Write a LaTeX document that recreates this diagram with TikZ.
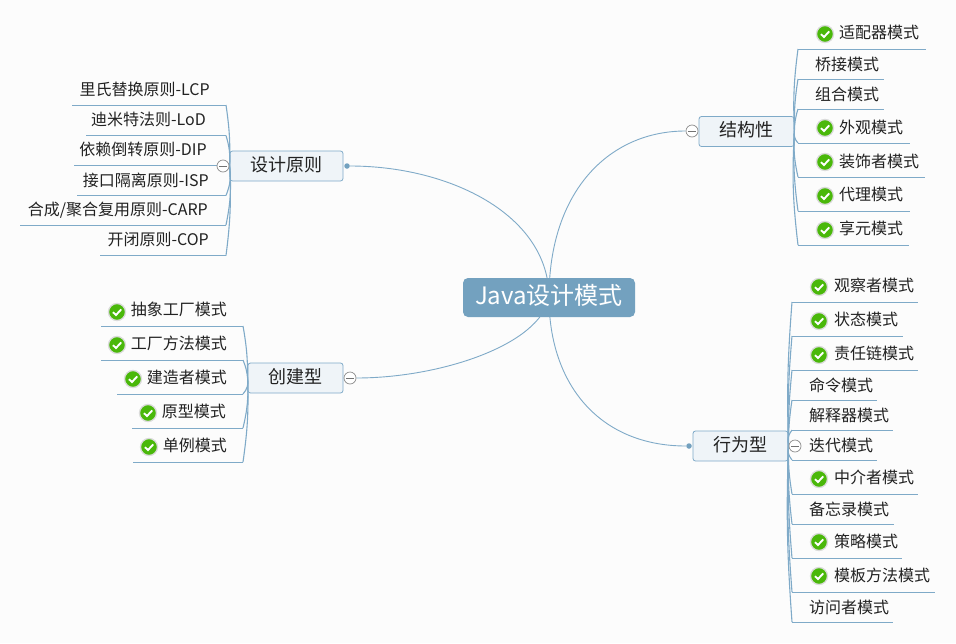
\documentclass[tikz,border=0pt]{standalone}
\usepackage{fontspec}
\setmainfont{Noto Sans CJK SC}
\usetikzlibrary{backgrounds}
\definecolor{rootblue}{HTML}{73A1BF}
\definecolor{linkblue}{HTML}{7FAAC8}
\definecolor{topicfill}{HTML}{EFF4F8}
\definecolor{checkgreen}{HTML}{4AB80A}
\definecolor{paper}{HTML}{FCFCFC}
\definecolor{inktext}{HTML}{222222}
\tikzset{
  rootnode/.style={rounded corners=5pt, fill=rootblue, text=white, minimum width=172pt, minimum height=39pt, inner sep=0pt, text height=18pt, text depth=4pt, font=\fontsize{24}{28}\selectfont},
  topicnode/.style={draw=linkblue, rounded corners=2.5pt, fill=topicfill, text=inktext, minimum height=30pt, inner sep=0pt, line width=0.8pt, text height=15pt, text depth=4.5pt, font=\fontsize{18}{22}\selectfont},
  leafright/.style={anchor=west, inner sep=0pt, text=inktext, text height=15pt, text depth=3pt, font=\fontsize{16}{18}\selectfont},
  leafleft/.style={leafright, anchor=east},
  mainlink/.style={draw=linkblue, line width=0.9pt},
  branchlink/.style={draw=linkblue, line width=1.1pt},
  underline/.style={draw=linkblue, line width=0.8pt},
  foldmark/.style={circle, draw=black!45, fill=white, minimum size=12pt, inner sep=0pt, line width=0.7pt,
    path picture={\draw[black!55, line width=0.7pt] ([xshift=-4pt]path picture bounding box.center) -- ([xshift=4pt]path picture bounding box.center);}},
  enddot/.style={circle, fill=rootblue, minimum size=5.5pt, inner sep=0pt},
  checkmark/.style={circle, fill=checkgreen, draw=black!14, line width=1.3pt, minimum size=17pt, inner sep=0pt,
    path picture={\draw[white, line width=1.9pt] ([shift={(-4,0.2)}]path picture bounding box.center) -- ([shift={(-1,3)}]path picture bounding box.center) -- ([shift={(4.2,-2.6)}]path picture bounding box.center);}}
}
\begin{document}
\begin{tikzpicture}[x=1pt, y=-1pt]
  \useasboundingbox (0,0) rectangle (956,643);

  % main topics
  \node[rootnode] (root) at (549,297.5) {Java设计模式};
  \node[topicnode, minimum width=95pt] (jiegou) at (746.5,131.5) {结构性};
  \node[topicnode, minimum width=113pt] (yuanze) at (286.5,166) {设计原则};
  \node[topicnode, minimum width=95pt] (chuangjian) at (295.5,378) {创建型};
  \node[topicnode, minimum width=95pt] (xingwei) at (740.5,446) {行为型};
  \node[enddot] (yuanzedot) at (347,166) {};
  \node[enddot] (xingweidot) at (689,446) {};

  % structure patterns
  \coordinate (a1s) at (798,49); \coordinate (a1e) at (926,49);
  \coordinate (a2s) at (798,79); \coordinate (a2e) at (884,79);
  \coordinate (a3s) at (798,109); \coordinate (a3e) at (884,109);
  \coordinate (a4s) at (798,143); \coordinate (a4e) at (910,143);
  \coordinate (a5s) at (798,177); \coordinate (a5e) at (925,177);
  \coordinate (a6s) at (798,211); \coordinate (a6e) at (910,211);
  \coordinate (a7s) at (798,245); \coordinate (a7e) at (909,245);
  \draw[underline] (a1s) -- (a1e);
  \draw[underline] (a2s) -- (a2e);
  \draw[underline] (a3s) -- (a3e);
  \draw[underline] (a4s) -- (a4e);
  \draw[underline] (a5s) -- (a5e);
  \draw[underline] (a6s) -- (a6e);
  \draw[underline] (a7s) -- (a7e);
  \draw[branchlink] (jiegou.east) to[bend left=5] (a1s);
  \draw[branchlink] (jiegou.east) to[bend left=5] (a2s);
  \draw[branchlink] (jiegou.east) to[bend left=8] (a3s);
  \draw[branchlink] (jiegou.east) to[bend right=25] (a4s);
  \draw[branchlink] (jiegou.east) to[bend right=8] (a5s);
  \draw[branchlink] (jiegou.east) to[bend right=5] (a6s);
  \draw[branchlink] (jiegou.east) to[bend right=5] (a7s);
  \node[leafright] (a1) at (839,32) {适配器模式};
  \node[leafright] (a2) at (815,64) {桥接模式};
  \node[leafright] (a3) at (815,94) {组合模式};
  \node[leafright] (a4) at (839,127) {外观模式};
  \node[leafright] (a5) at (839,161) {装饰者模式};
  \node[leafright] (a6) at (839,194) {代理模式};
  \node[leafright] (a7) at (839,228) {享元模式};
  \node[checkmark] (a1c) at (825,34) {};
  \node[checkmark] (a4c) at (825,128) {};
  \node[checkmark] (a5c) at (825,162) {};
  \node[checkmark] (a6c) at (825,196) {};
  \node[checkmark] (a7c) at (825,230) {};
  \node[foldmark] (jiegoufold) at (692,131) {};

  % design principles
  \coordinate (b1s) at (226,105); \coordinate (b1e) at (72,105);
  \coordinate (b2s) at (226,135.5); \coordinate (b2e) at (86,135.5);
  \coordinate (b3s) at (226,165.5); \coordinate (b3e) at (74,165.5);
  \coordinate (b4s) at (226,195.5); \coordinate (b4e) at (77,195.5);
  \coordinate (b5s) at (226,225); \coordinate (b5e) at (20,225);
  \coordinate (b6s) at (226,255.5); \coordinate (b6e) at (100,255.5);
  \draw[underline] (b1s) -- (b1e);
  \draw[underline] (b2s) -- (b2e);
  \draw[underline] (b3s) -- (b3e);
  \draw[underline] (b4s) -- (b4e);
  \draw[underline] (b5s) -- (b5e);
  \draw[underline] (b6s) -- (b6e);
  \draw[branchlink] (yuanze.west) to[bend right=5] (b1s);
  \draw[branchlink] (yuanze.west) to[bend right=10] (b2s);
  \draw[branchlink] (yuanze.west) -- (b3s);
  \draw[branchlink] (yuanze.west) to[bend left=15] (b4s);
  \draw[branchlink] (yuanze.west) to[bend left=8] (b5s);
  \draw[branchlink] (yuanze.west) to[bend left=5] (b6s);
  \node[leafleft] (b1) at (210,89) {里氏替换原则-LCP};
  \node[leafleft] (b2) at (206,119) {迪米特法则-LoD};
  \node[leafleft] (b3) at (207,149) {依赖倒转原则-DIP};
  \node[leafleft] (b4) at (209,180) {接口隔离原则-ISP};
  \node[leafleft] (b5) at (208,209) {合成/聚合复用原则-CARP};
  \node[leafleft] (b6) at (209,239) {开闭原则-COP};
  \node[foldmark] (yuanzefold) at (223,166) {};

  % creational patterns
  \coordinate (c1s) at (243,326); \coordinate (c1e) at (101,326);
  \coordinate (c2s) at (243,360); \coordinate (c2e) at (101,360);
  \coordinate (c3s) at (243,394); \coordinate (c3e) at (117,394);
  \coordinate (c4s) at (243,428); \coordinate (c4e) at (132,428);
  \coordinate (c5s) at (243,462); \coordinate (c5e) at (133,462);
  \draw[underline] (c1s) -- (c1e);
  \draw[underline] (c2s) -- (c2e);
  \draw[underline] (c3s) -- (c3e);
  \draw[underline] (c4s) -- (c4e);
  \draw[underline] (c5s) -- (c5e);
  \draw[branchlink] (chuangjian.west) to[bend right=5] (c1s);
  \draw[branchlink] (chuangjian.west) to[bend right=8] (c2s);
  \draw[branchlink] (chuangjian.west) to[bend left=25] (c3s);
  \draw[branchlink] (chuangjian.west) to[bend left=8] (c4s);
  \draw[branchlink] (chuangjian.west) to[bend left=5] (c5s);
  \node[leafleft] (c1) at (227,309) {抽象工厂模式};
  \node[leafleft] (c2) at (227,343) {工厂方法模式};
  \node[leafleft] (c3) at (227,377) {建造者模式};
  \node[leafleft] (c4) at (226,411) {原型模式};
  \node[leafleft] (c5) at (227,445) {单例模式};
  \node[checkmark] (c1c) at (117,312) {};
  \node[checkmark] (c2c) at (117,345) {};
  \node[checkmark] (c3c) at (133,379) {};
  \node[checkmark] (c4c) at (148,413) {};
  \node[checkmark] (c5c) at (149,447) {};
  \node[foldmark] (chuangjianfold) at (350,378) {};

  % behavioural patterns
  \coordinate (d1s) at (792,302); \coordinate (d1e) at (918,302);
  \coordinate (d2s) at (792,336); \coordinate (d2e) at (903,336);
  \coordinate (d3s) at (792,370); \coordinate (d3e) at (918,370);
  \coordinate (d4s) at (792,400); \coordinate (d4e) at (877,400);
  \coordinate (d5s) at (792,430); \coordinate (d5e) at (893,430);
  \coordinate (d6s) at (792,460); \coordinate (d6e) at (877,460);
  \coordinate (d7s) at (792,494); \coordinate (d7e) at (918,494);
  \coordinate (d8s) at (792,524); \coordinate (d8e) at (894,524);
  \coordinate (d9s) at (792,558); \coordinate (d9e) at (902,558);
  \coordinate (d10s) at (792,592); \coordinate (d10e) at (935,592);
  \coordinate (d11s) at (792,622); \coordinate (d11e) at (893,622);
  \draw[underline] (d1s) -- (d1e);
  \draw[underline] (d2s) -- (d2e);
  \draw[underline] (d3s) -- (d3e);
  \draw[underline] (d4s) -- (d4e);
  \draw[underline] (d5s) -- (d5e);
  \draw[underline] (d6s) -- (d6e);
  \draw[underline] (d7s) -- (d7e);
  \draw[underline] (d8s) -- (d8e);
  \draw[underline] (d9s) -- (d9e);
  \draw[underline] (d10s) -- (d10e);
  \draw[underline] (d11s) -- (d11e);
  \draw[branchlink] (xingwei.east) to[bend left=3] (d1s);
  \draw[branchlink] (xingwei.east) to[bend left=3] (d2s);
  \draw[branchlink] (xingwei.east) to[bend left=3] (d3s);
  \draw[branchlink] (xingwei.east) to[bend left=4] (d4s);
  \draw[branchlink] (xingwei.east) to[bend left=25] (d5s);
  \draw[branchlink] (xingwei.east) to[bend right=25] (d6s);
  \draw[branchlink] (xingwei.east) to[bend right=5] (d7s);
  \draw[branchlink] (xingwei.east) to[bend right=4] (d8s);
  \draw[branchlink] (xingwei.east) to[bend right=3] (d9s);
  \draw[branchlink] (xingwei.east) to[bend right=3] (d10s);
  \draw[branchlink] (xingwei.east) to[bend right=3] (d11s);
  \node[leafright] (d1) at (834,285) {观察者模式};
  \node[leafright] (d2) at (834,319) {状态模式};
  \node[leafright] (d3) at (834,353) {责任链模式};
  \node[leafright] (d4) at (809,385) {命令模式};
  \node[leafright] (d5) at (809,415) {解释器模式};
  \node[leafright] (d6) at (809,445) {迭代模式};
  \node[leafright] (d7) at (834,477) {中介者模式};
  \node[leafright] (d8) at (809,509) {备忘录模式};
  \node[leafright] (d9) at (834,541) {策略模式};
  \node[leafright] (d10) at (834,575) {模板方法模式};
  \node[leafright] (d11) at (809,607) {访问者模式};
  \node[checkmark] (d1c) at (819,287) {};
  \node[checkmark] (d2c) at (819,321) {};
  \node[checkmark] (d3c) at (819,355) {};
  \node[checkmark] (d7c) at (819,479) {};
  \node[checkmark] (d9c) at (819,542) {};
  \node[checkmark] (d10c) at (819,576) {};
  \node[foldmark] (xingweifold) at (795,446) {};

  % curves from the root go under everything
  \begin{pgfonlayer}{background}
    \fill[paper] (0,0) rectangle (956,643);
    \draw[mainlink] (root.center) .. controls (549,190) and (610,131) .. (jiegoufold.west);
    \draw[mainlink] (root.center) .. controls (549,215) and (450,166) .. (yuanzedot);
    \draw[mainlink] (root.center) .. controls (540,345) and (440,378) .. (chuangjianfold.east);
    \draw[mainlink] (root.center) .. controls (549,385) and (600,446) .. (xingweidot);
  \end{pgfonlayer}
\end{tikzpicture}
\end{document}
